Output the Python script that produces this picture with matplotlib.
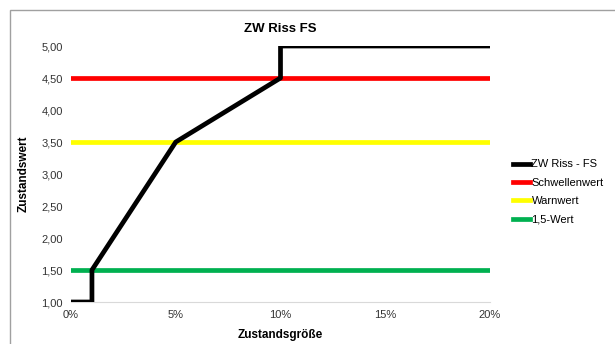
import matplotlib.pyplot as plt
from matplotlib.patches import Rectangle
from matplotlib.ticker import FuncFormatter

# ZW curve: Zustandsgröße (fraction) vs Zustandswert
zw_x = [0.0, 0.01, 0.01, 0.05, 0.10, 0.10, 0.20]
zw_y = [1.0, 1.0, 1.5, 3.5, 4.5, 5.0, 5.0]

x_range = [0.0, 0.20]
schwellenwert = 4.5
warnwert = 3.5
wert_15 = 1.5

yticks = [1.0, 1.5, 2.0, 2.5, 3.0, 3.5, 4.0, 4.5, 5.0]
xticks = [0.0, 0.05, 0.10, 0.15, 0.20]

plt.rcParams['font.family'] = ['Liberation Sans', 'DejaVu Sans']

fig = plt.figure(figsize=(6.15, 3.44), dpi=100)
fig.patches.append(Rectangle((10 / 615, -0.1), 1.2, 1 - 10 / 344 + 0.1,
                             transform=fig.transFigure, fill=False,
                             edgecolor='#a0a0a0', linewidth=1.0))

ax = fig.add_axes([71 / 615, 1 - 302 / 344, (490 - 71) / 615, (302 - 46) / 344])

ax.plot(zw_x, zw_y, color='black', linewidth=3.4, label='ZW Riss - FS', zorder=5)
ax.plot(x_range, [schwellenwert] * 2, color='#ff0000', linewidth=3.4, label='Schwellenwert')
ax.plot(x_range, [warnwert] * 2, color='#ffff00', linewidth=3.4, label='Warnwert')
ax.plot(x_range, [wert_15] * 2, color='#00b050', linewidth=3.4, label='1,5-Wert')

ax.set_xlim(0, 0.2)
ax.set_ylim(1, 5)
ax.set_xticks(xticks)
ax.set_yticks(yticks)
ax.xaxis.set_major_formatter(FuncFormatter(lambda v, p: f"{v * 100:.0f}%"))
ax.yaxis.set_major_formatter(FuncFormatter(lambda v, p: f"{v:.2f}".replace('.', ',')))
ax.tick_params(length=0, labelsize=8, pad=6, colors='#333333')

for side in ['top', 'right', 'left']:
    ax.spines[side].set_visible(False)
ax.spines['bottom'].set_color('#d9d9d9')

ax.set_title('ZW Riss FS', fontsize=9.5, fontweight='bold', pad=10)
ax.set_xlabel('Zustandsgröße', fontsize=8.5, fontweight='bold', labelpad=6)
ax.set_ylabel('Zustandswert', fontsize=8.5, fontweight='bold', labelpad=8)

ax.legend(loc='center left', bbox_to_anchor=(1.03, 0.43), frameon=False,
          fontsize=8, handlelength=1.6, handletextpad=0.1, labelspacing=0.75)

fig.savefig('out.png', dpi=100)
